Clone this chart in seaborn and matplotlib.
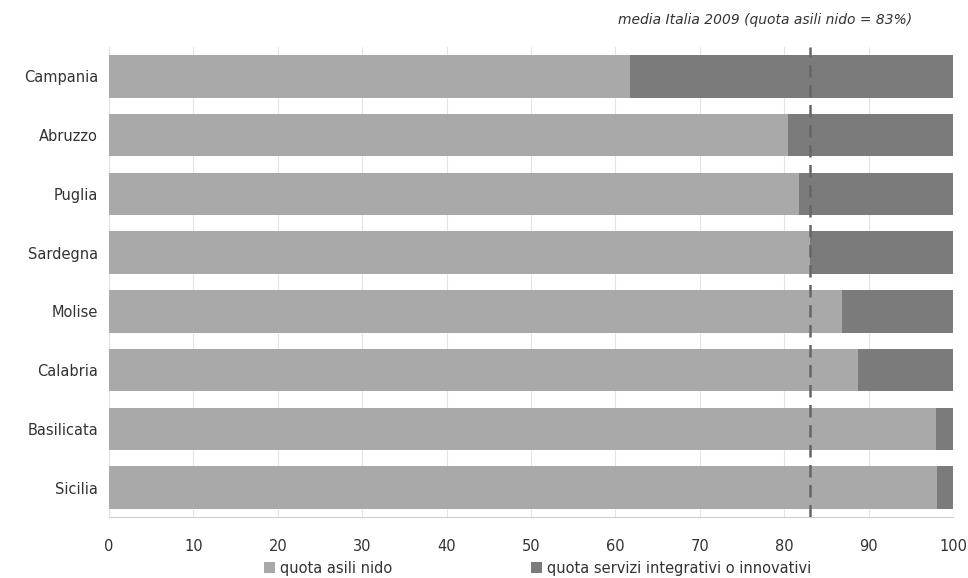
import seaborn as sns
import matplotlib.pyplot as plt
import pandas as pd

# dati
regioni = ["Campania", "Abruzzo", "Puglia", "Sardegna", "Molise", "Calabria", "Basilicata", "Sicilia"]
asili_nido = [61.7, 80.5, 81.8, 83.1, 86.8, 88.8, 98.0, 98.1]
servizi_integrativi = [38.3, 19.5, 18.2, 16.9, 13.2, 11.2, 2.0, 1.9]
media_italia = 83

df = pd.DataFrame({"regione": regioni, "asili": asili_nido, "servizi": servizi_integrativi})
df["totale"] = df["asili"] + df["servizi"]

sns.set_style("white")
plt.rcParams["font.family"] = ["DejaVu Sans"]

c_chiaro = "#a9a9a9"
c_scuro = "#7b7b7b"
c_testo = "#333333"

fig = plt.figure(figsize=(9.68, 5.78), dpi=100)
ax = fig.add_axes([0.1126, 0.1055, 0.8719, 0.8132])

# barre impilate: totale (scuro) sotto, quota asili (chiaro) sopra
sns.barplot(data=df, y="regione", x="totale", color=c_scuro, width=0.72, linewidth=0,
            saturation=1, orient="h", ax=ax, zorder=2, label="quota servizi integrativi o innovativi")
sns.barplot(data=df, y="regione", x="asili", color=c_chiaro, width=0.72, linewidth=0,
            saturation=1, orient="h", ax=ax, zorder=3, label="quota asili nido")

ax.axvline(media_italia, color="#666666", linestyle=(0, (5, 3)), linewidth=1.8, zorder=4)

ax.set_xlim(0, 100)
ax.set_ylim(7.5, -0.5)
ax.set_xticks(range(0, 101, 10))
ax.grid(axis="x", color="#e4e4e4", linewidth=0.8, zorder=0)
ax.set_axisbelow(True)
ax.set_xlabel("")
ax.set_ylabel("")

for s in ["top", "right"]:
    ax.spines[s].set_visible(False)
ax.spines["bottom"].set_color("#d0d0d0")
ax.spines["left"].set_color("#e4e4e4")
ax.tick_params(axis="x", colors=c_testo, labelsize=10.5, length=4, color="#d0d0d0", pad=12)
ax.tick_params(axis="y", colors=c_testo, labelsize=10.5, length=0, pad=8)

fig.text(912 / 968, 1 - 20 / 578, "media Italia 2009 (quota asili nido = 83%)",
         ha="right", va="center", style="italic", fontsize=10, color=c_testo)

handles, labels = ax.get_legend_handles_labels()
if ax.legend_ is not None:
    ax.legend_.remove()
order = [labels.index("quota asili nido"), labels.index("quota servizi integrativi o innovativi")]
fig.legend([handles[i] for i in order], [labels[i] for i in order],
           loc="center", bbox_to_anchor=(0.555, 1 - 568 / 578), ncol=2, frameon=False,
           fontsize=10.5, labelcolor=c_testo, handlelength=0.8, handleheight=0.8,
           handletextpad=0.3, columnspacing=9.5, borderaxespad=0)

fig.savefig("out.png", dpi=100, facecolor="white")
